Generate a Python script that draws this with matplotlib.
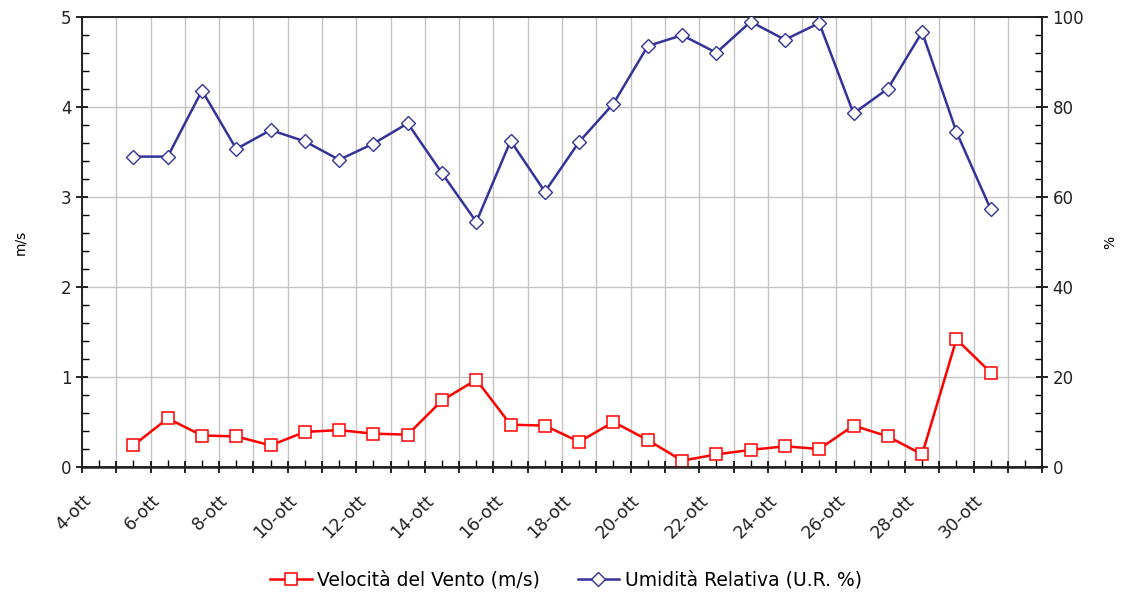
import numpy as np
import matplotlib
matplotlib.use('Agg')
import matplotlib.pyplot as plt
from matplotlib.ticker import MultipleLocator

# giorni di ottobre (un punto per giorno)
giorni = [5, 6, 7, 8, 9, 10, 11, 12, 13, 14, 15, 16, 17, 18, 19, 20,
          21, 22, 23, 24, 25, 26, 27, 28, 29, 30]
vento = [0.24, 0.54, 0.35, 0.34, 0.24, 0.39, 0.41, 0.37, 0.36, 0.74, 0.97, 0.47, 0.46,
         0.28, 0.50, 0.30, 0.07, 0.14, 0.19, 0.23, 0.20, 0.46, 0.34, 0.14, 1.42, 1.05]
umidita = [69.0, 69.0, 83.7, 70.7, 74.9, 72.4, 68.3, 71.9, 76.4, 65.3, 54.5, 72.5, 61.2,
           72.3, 80.8, 93.6, 96.0, 92.1, 99.0, 95.0, 98.7, 78.6, 84.1, 96.7, 74.5, 57.3]
giorni_etichette = [4, 6, 8, 10, 12, 14, 16, 18, 20, 22, 24, 26, 28, 30]

rosso = '#FF0000'
blu = '#333399'

x = np.array(giorni) + 0.5

fig = plt.figure(figsize=(11.23, 5.93), dpi=100)
ax = fig.add_axes([0.073, 0.2125, 0.855, 0.7585])
ax2 = ax.twinx()

l1, = ax.plot(x, vento, color=rosso, lw=1.8, marker='s', ms=8,
              mfc='white', mec=rosso, mew=1.1, label='Velocità del Vento (m/s)', zorder=3)
l2, = ax2.plot(x, umidita, color=blu, lw=1.8, marker='D', ms=7.5,
               mfc='white', mec=blu, mew=1.0, label='Umidità Relativa (U.R. %)', zorder=3)

ax.set_xlim(4, 32)
ax.set_ylim(0, 5)
ax2.set_ylim(0, 100)

ax.xaxis.set_minor_locator(MultipleLocator(0.5))
ax.set_xticks(range(4, 33), [''] * 29)
for g in giorni_etichette:
    ax.text(g, -0.27, f'{g}-ott', rotation=45, ha='right', va='top',
            rotation_mode='anchor', fontsize=12.5, color='#222222',
            transform=ax.transData)

ax.yaxis.set_major_locator(MultipleLocator(1))
ax.yaxis.set_minor_locator(MultipleLocator(0.2))
ax2.yaxis.set_major_locator(MultipleLocator(20))
ax2.yaxis.set_minor_locator(MultipleLocator(4))

ax.grid(True, which='major', color='#c4c4c4', lw=1.0, zorder=0)
ax.set_axisbelow(True)

ax.tick_params(axis='both', which='major', direction='inout', length=8, width=1.2,
               labelsize=12, labelcolor='#222222')
ax.tick_params(axis='both', which='minor', direction='in', length=5, width=1.0)
ax2.tick_params(axis='y', which='major', direction='inout', length=8, width=1.2,
                labelsize=12, labelcolor='#222222')
ax2.tick_params(axis='y', which='minor', direction='in', length=5, width=1.0)

for a in (ax, ax2):
    for s in a.spines.values():
        s.set_color('#222222')
        s.set_linewidth(1.2)
ax.spines['bottom'].set_linewidth(1.8)

ax.set_ylabel('m/s', fontsize=10, labelpad=24)
ax2.set_ylabel('%', fontsize=10, labelpad=14)

fig.legend(handles=[l1, l2], loc='center', bbox_to_anchor=(0.504, 0.022),
           ncol=2, frameon=False, fontsize=13.5, handlelength=2.2,
           handletextpad=0.3, columnspacing=2.0)

fig.savefig('out.png', dpi=100)
